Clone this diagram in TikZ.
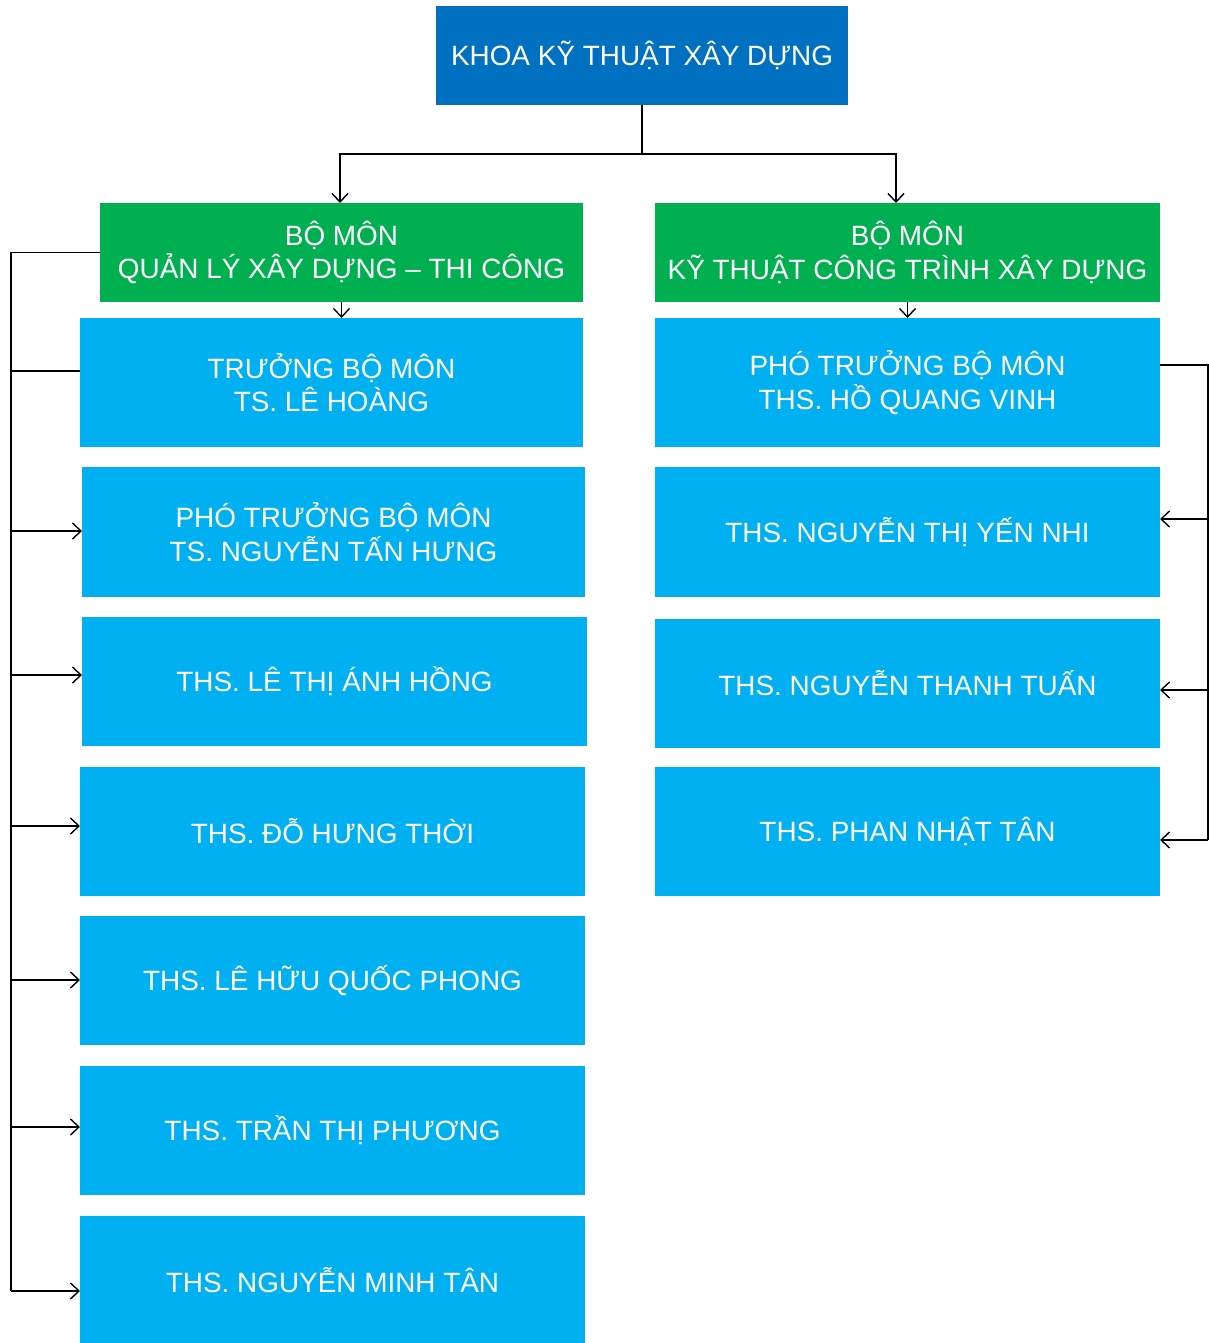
\documentclass[tikz,border=0pt]{standalone}
\usepackage{fontspec}
\setmainfont{Liberation Sans}
\usetikzlibrary{arrows.meta,calc}
\definecolor{topblue}{HTML}{0070C0}
\definecolor{deptgreen}{HTML}{00B050}
\definecolor{staffblue}{HTML}{00B0F0}
\tikzset{
  box/.style={inner sep=0pt, outer sep=0pt, text=white, align=center,
    font=\fontsize{27.9}{33.5}\selectfont},
  topbox/.style={box, fill=topblue},
  deptbox/.style={box, fill=deptgreen},
  staffbox/.style={box, fill=staffblue},
  conn/.style={draw=black, line width=1.4pt},
  arr/.style={conn, -{Straight Barb[length=8.5pt,width=16pt,line width=1.4pt]}},
}
\begin{document}
\begin{tikzpicture}[x=1pt,y=-1pt]
\useasboundingbox (0,0) rectangle (1209,1343);
\fill[white] (0,0) rectangle (1209,1343);

\node[topbox, minimum width=412, minimum height=99] (top) at (642,55.5) {KHOA KỸ THUẬT XÂY DỰNG};

\node[deptbox, minimum width=483, minimum height=99] (g1) at (341.5,252.5) {BỘ MÔN\\QUẢN LÝ XÂY DỰNG – THI CÔNG};
\node[deptbox, minimum width=505, minimum height=99] (g2) at (907.5,252.5) {BỘ MÔN\\KỸ THUẬT CÔNG TRÌNH XÂY DỰNG};

\node[staffbox, minimum width=503, minimum height=129] (l1) at (331.5,382.5) {TRƯỞNG BỘ MÔN\\TS. LÊ HOÀNG};
\node[staffbox, minimum width=503, minimum height=130] (l2) at (333.5,532) {PHÓ TRƯỞNG BỘ MÔN\\TS. NGUYỄN TẤN HƯNG};
\node[staffbox, minimum width=505, minimum height=129] (l3) at (334.5,681.5) {THS. LÊ THỊ ÁNH HỒNG};
\node[staffbox, minimum width=505, minimum height=129] (l4) at (332.5,831.5) {THS. ĐỖ HƯNG THỜI};
\node[staffbox, minimum width=505, minimum height=129] (l5) at (332.5,980.5) {THS. LÊ HỮU QUỐC PHONG};
\node[staffbox, minimum width=505, minimum height=129] (l6) at (332.5,1130.5) {THS. TRẦN THỊ PHƯƠNG};
\node[staffbox, minimum width=505, minimum height=129] (l7) at (332.5,1280.5) {THS. NGUYỄN MINH TÂN};

\node[staffbox, minimum width=505, minimum height=129] (r1) at (907.5,382.5) {PHÓ TRƯỞNG BỘ MÔN\\THS. HỒ QUANG VINH};
\node[staffbox, minimum width=505, minimum height=130] (r2) at (907.5,532) {THS. NGUYỄN THỊ YẾN NHI};
\node[staffbox, minimum width=505, minimum height=129] (r3) at (907.5,683.5) {THS. NGUYỄN THANH TUẤN};
\node[staffbox, minimum width=505, minimum height=129] (r4) at (907.5,831.5) {THS. PHAN NHẬT TÂN};

% top to departments
\coordinate (j) at (642,154);
\draw[conn] (top.south) -- (j);
\draw[arr] (j) -| ($(g1.north)+(-1.5,0)$);
\draw[arr] (j) -| ($(g2.north)+(-11.5,0)$);

% departments to first staff box
\draw[arr] (g1.south) -- (g1.south |- l1.north);
\draw[arr] (g2.south) -- (g2.south |- r1.north);

% left bus
\coordinate (Ltop) at (11,252.5);
\coordinate (Lbot) at (11,1291);
\draw[conn] (g1.west) -- (Ltop) -- (Lbot);
\coordinate (bl1) at (11,371);
\draw[conn] (bl1) -- (bl1 -| l1.west);
\foreach \n/\y in {l2/531,l3/675,l4/826,l5/980,l6/1127,l7/1291}{
  \coordinate (b\n) at (11,\y);
  \draw[arr] (b\n) -- (b\n -| \n.west);
}

% right bus
\coordinate (Rtop) at (1208,365);
\coordinate (Rbot) at (1208,840);
\draw[conn] (Rtop -| r1.east) -- (Rtop) -- (Rbot);
\foreach \n/\y in {r2/519,r3/690,r4/840}{
  \coordinate (b\n) at (1208,\y);
  \draw[arr] (b\n) -- (b\n -| \n.east);
}
\end{tikzpicture}
\end{document}
